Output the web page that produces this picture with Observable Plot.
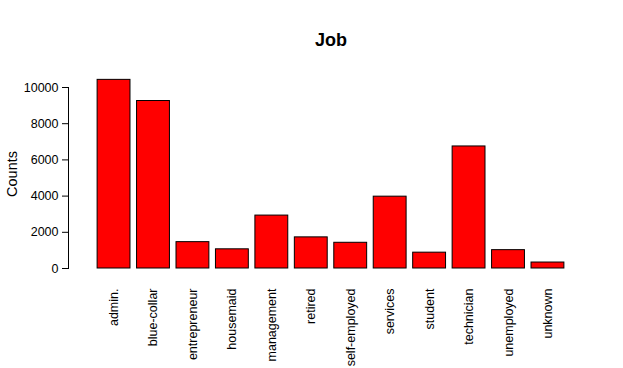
<!DOCTYPE html>
<html><head><meta charset="utf-8">
<script src="https://cdn.jsdelivr.net/npm/d3@7"></script>
<script src="https://cdn.jsdelivr.net/npm/@observablehq/plot@0.6"></script>
<style>
body{margin:0;background:#fff;font-family:"Liberation Sans",Arial,sans-serif;}
#title{margin-top:29px;height:22px;line-height:22px;padding-left:39px;text-align:center;font-weight:bold;font-size:18px;}
</style></head><body>
<div id="title">Job</div>
<div id="chart"></div>
<script>
const jobs = ["admin.","blue-collar","entrepreneur","housemaid","management","retired","self-employed","services","student","technician","unemployed","unknown"];
const counts = [10422,9254,1456,1060,2924,1720,1421,3969,875,6743,1014,330];
const yTicks = [0,2000,4000,6000,8000,10000];
const data = jobs.map((j,i)=>({job:j,count:counts[i]}));
const chart = Plot.plot({
  width:623, height:317,
  marginLeft:68, marginRight:30, marginTop:36, marginBottom:100,
  style:{fontFamily:"Liberation Sans, Arial, sans-serif", color:"black"},
  x:{type:"band", domain:jobs, paddingInner:0.1667, paddingOuter:0.738, round:false, axis:null},
  y:{domain:[0,10000], axis:null},
  marks:[
    Plot.barY(data,{x:"job", y:"count", fill:"#ff0000", stroke:"black", strokeWidth:1}),
    Plot.frame({anchor:"left", stroke:"black"}),
    Plot.axisY(yTicks,{tickSize:6, tickPadding:4, fontSize:12.5, tickFormat:d=>String(d), label:null}),
    Plot.axisX({tickSize:0, tickPadding:20, tickRotate:-90, fontSize:12.5, label:null}),
    Plot.text(["Counts"],{frameAnchor:"left", textAnchor:"middle", dx:-56, dy:-4, rotate:-90, fontSize:14.5, fill:"black"})
  ]
});
document.getElementById("chart").appendChild(chart);
</script>
</body></html>
